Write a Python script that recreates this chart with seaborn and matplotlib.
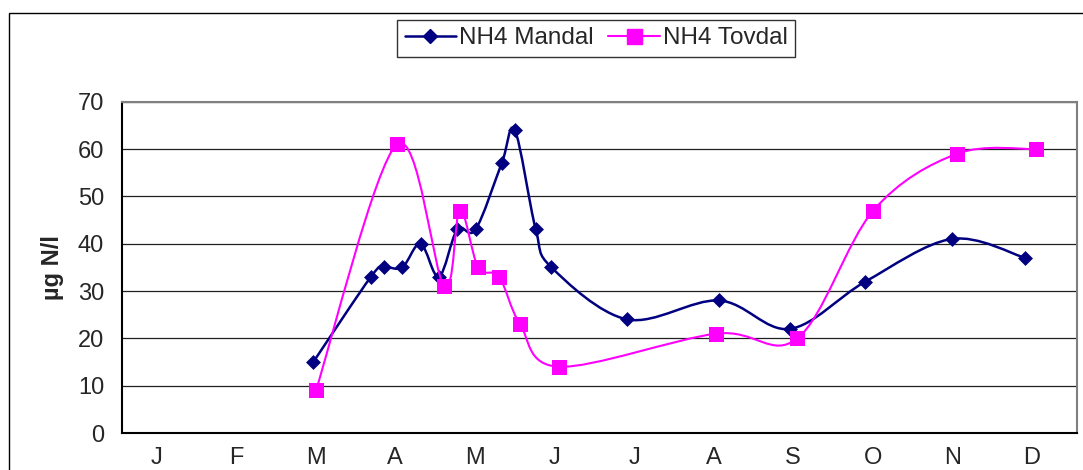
"""NH4 at Mandal and Tovdal through the year, Excel-style smoothed lines."""

import matplotlib.pyplot as plt
import numpy as np
import seaborn as sns
from matplotlib.lines import Line2D
from matplotlib.patches import PathPatch, Rectangle
from matplotlib.path import Path

# sampling day (day of year) and NH4 (µg N/l)
mandal_day = [73, 95, 100, 107, 114, 121, 128, 135, 145, 150, 158, 164, 193, 228, 255, 284, 317, 345]
mandal_nh4 = [15, 33, 35, 35, 40, 33, 43, 43, 57, 64, 43, 35, 24, 28, 22, 32, 41, 37]

tovdal_day = [74, 105, 123, 129, 136, 144, 152, 167, 227, 258, 287, 319, 349]
tovdal_nh4 = [9, 61, 31, 47, 35, 33, 23, 14, 21, 20, 47, 59, 60]

months = ["J", "F", "M", "A", "M", "J", "J", "A", "S", "O", "N", "D"]
y_ticks = [0, 10, 20, 30, 40, 50, 60, 70]

MANDAL_COLOR = "#000080"
TOVDAL_COLOR = "#FF00FF"


def smooth_path(xs, ys):
    """Bezier path through the points, like Excel's smoothed line."""
    pts = np.column_stack([xs, ys]).astype(float)
    n = len(pts)
    verts = [pts[0]]
    codes = [Path.MOVETO]
    for i in range(n - 1):
        p0 = pts[max(i - 1, 0)]
        p1 = pts[i]
        p2 = pts[i + 1]
        p3 = pts[min(i + 2, n - 1)]
        c1 = p1 + (p2 - p0) / 6
        c2 = p2 - (p3 - p1) / 6
        verts += [c1, c2, p2]
        codes += [Path.CURVE4] * 3
    return Path(verts, codes)


sns.set_style("white")
plt.rcParams["font.family"] = ["Liberation Sans", "DejaVu Sans"]

fig = plt.figure(figsize=(10.83, 4.70), dpi=100)
ax = fig.add_axes([122.3 / 1083, 37 / 470, (1077.4 - 122.3) / 1083, (433 - 101.7) / 470])

# smoothed lines
ax.add_patch(PathPatch(smooth_path(mandal_day, mandal_nh4), fill=False,
                       edgecolor=MANDAL_COLOR, linewidth=1.8, zorder=3))
ax.add_patch(PathPatch(smooth_path(tovdal_day, tovdal_nh4), fill=False,
                       edgecolor=TOVDAL_COLOR, linewidth=1.5, zorder=5))

# markers
sns.scatterplot(x=mandal_day, y=mandal_nh4, marker="D", s=7.6 ** 2, color=MANDAL_COLOR,
                edgecolor=MANDAL_COLOR, linewidth=0, ax=ax, zorder=4)
sns.scatterplot(x=tovdal_day, y=tovdal_nh4, marker="s", s=10.8 ** 2, color=TOVDAL_COLOR,
                edgecolor=TOVDAL_COLOR, linewidth=0, ax=ax, zorder=6)

# axes
month_len = 365 / 12
ax.set_xlim(0, 365)
ax.set_ylim(0, 70)
ax.set_xticks([i * month_len for i in range(13)], labels=[""] * 13)
ax.set_xticks([(i + 0.43) * month_len for i in range(12)], labels=months, minor=True)
ax.set_yticks(y_ticks)
ax.tick_params(axis="x", which="major", direction="out", length=5, width=1.2, color="black")
ax.tick_params(axis="x", which="minor", length=0, pad=10, labelsize=17)
ax.tick_params(axis="y", direction="out", length=5, width=1.2, color="black", pad=8, labelsize=17)
ax.yaxis.grid(True, color="#202020", linewidth=0.9, zorder=0)
ax.set_axisbelow(True)

for side in ["left", "bottom"]:
    ax.spines[side].set_color("black")
    ax.spines[side].set_linewidth(1.5)
for side in ["top", "right"]:
    ax.spines[side].set_color("#808080")
    ax.spines[side].set_linewidth(1.5)

ax.set_ylabel("µg N/l", fontsize=17, fontweight="bold", labelpad=10)

# legend
handles = [
    Line2D([], [], color=MANDAL_COLOR, linewidth=1.8, marker="D", markersize=7.6),
    Line2D([], [], color=TOVDAL_COLOR, linewidth=1.5, marker="s", markersize=10.8),
]
leg = fig.legend(handles, ["NH4 Mandal", "NH4 Tovdal"], ncol=2, loc="upper left",
                 bbox_to_anchor=(397.3 / 1083, 1 - 20 / 470), fontsize=17.5,
                 frameon=True, fancybox=False, shadow=False, borderpad=0.3,
                 handlelength=2.1, handletextpad=0.15, columnspacing=0.6,
                 borderaxespad=0)
leg.get_frame().set_edgecolor("black")
leg.get_frame().set_linewidth(1.0)

# outer chart frame (cut by the image edge on right and bottom)
fig.add_artist(Rectangle((9.3 / 1083, -0.2), 1.2, 1.2 - 12.7 / 470, transform=fig.transFigure,
                         fill=False, edgecolor="black", linewidth=1.0))

fig.savefig("out.png", dpi=100)
